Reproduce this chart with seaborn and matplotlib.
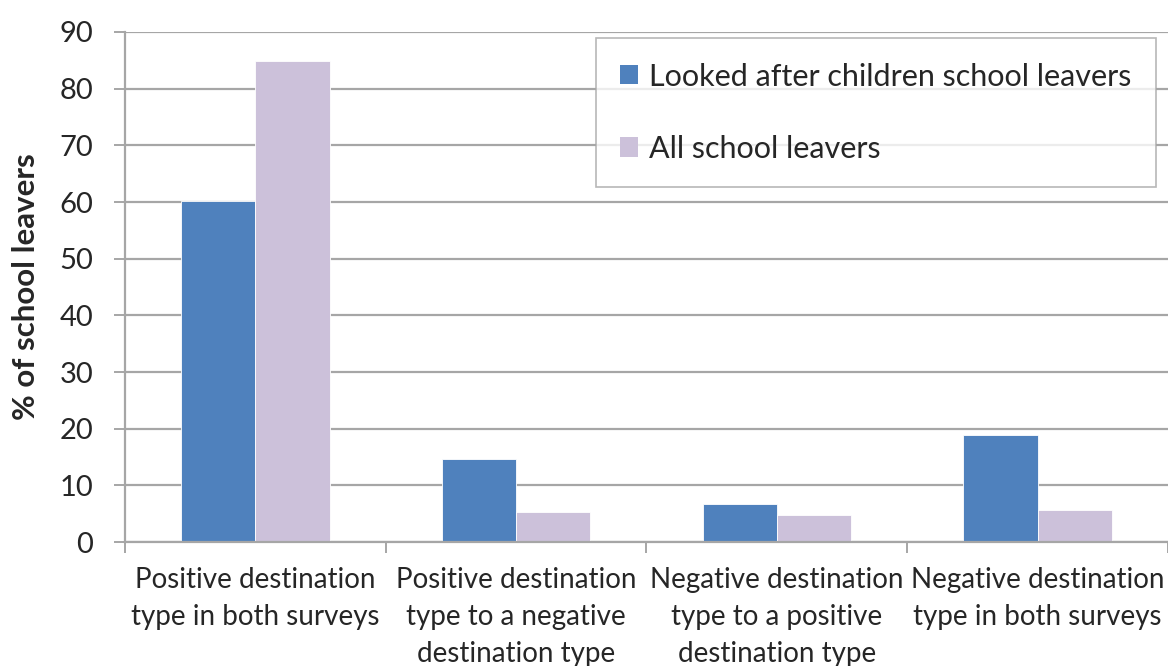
import matplotlib
matplotlib.use("Agg")
import matplotlib.pyplot as plt
import seaborn as sns
import pandas as pd
from matplotlib.ticker import FixedLocator

categories = [
    "Positive destination\ntype in both surveys",
    "Positive destination\ntype to a negative\ndestination type",
    "Negative destination\ntype to a positive\ndestination type",
    "Negative destination\ntype in both surveys",
]
series_names = ["Looked after children school leavers", "All school leavers"]
looked_after = [60.2, 14.6, 6.7, 18.9]
all_leavers = [84.9, 5.3, 4.8, 5.6]
y_ticks = [0, 10, 20, 30, 40, 50, 60, 70, 80, 90]

df = pd.DataFrame({
    "category": categories * 2,
    "series": [series_names[0]] * 4 + [series_names[1]] * 4,
    "value": looked_after + all_leavers,
})

sns.set_theme(style="white")
plt.rcParams["font.family"] = ["Lato", "DejaVu Sans"]

fig = plt.figure(figsize=(11.68, 6.66), dpi=100)
ax = fig.add_axes([0.107, 0.186, 0.893, 0.766])

grid_col = "#a6a6a6"
ax.set_axisbelow(True)
ax.yaxis.grid(True, color=grid_col, linewidth=1.6)

sns.barplot(data=df, x="category", y="value", hue="series",
            palette=["#4F81BD", "#CCC1DA"], width=0.57, gap=0,
            saturation=1, ax=ax, edgecolor="white", linewidth=0.6)

ax.set_ylim(0, 90)
ax.set_xlim(-0.5, 3.5)
ax.set_yticks(y_ticks)
ax.tick_params(axis="y", labelsize=21, length=8, width=1.4,
               color=grid_col, direction="out", pad=15, left=True)
ax.set_xticks(range(len(categories)))
ax.set_xticklabels(categories, fontsize=20, linespacing=1.52)
ax.tick_params(axis="x", which="major", length=0, pad=18)
ax.xaxis.set_minor_locator(FixedLocator([-0.5, 0.5, 1.5, 2.5, 3.5]))
ax.tick_params(axis="x", which="minor", length=8, width=1.4,
               color=grid_col, direction="out", bottom=True)

ax.set_xlabel("")
ax.set_ylabel("% of school leavers", fontsize=22.5, fontweight="bold", labelpad=14)

for side in ["top", "right"]:
    ax.spines[side].set_visible(False)
for side in ["left", "bottom"]:
    ax.spines[side].set_color(grid_col)
    ax.spines[side].set_linewidth(1.6)

leg = ax.legend(loc="upper right", bbox_to_anchor=(0.9885, 0.988),
                fontsize=22, frameon=True, fancybox=False,
                handlelength=0.6, handleheight=0.6, handletextpad=0.35,
                labelspacing=1.45, borderpad=0.8, borderaxespad=0)
leg.get_frame().set_edgecolor(grid_col)
leg.get_frame().set_linewidth(1.2)
for h in leg.legend_handles:
    h.set_edgecolor("none")

fig.savefig("out.png", dpi=100, facecolor="white")
